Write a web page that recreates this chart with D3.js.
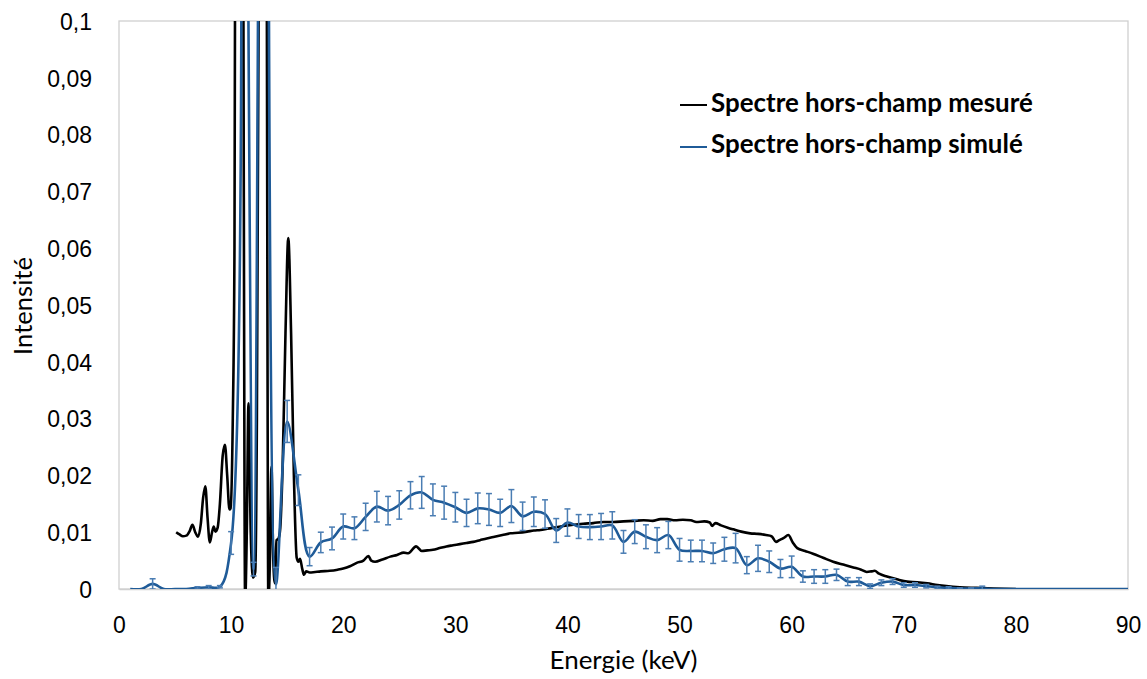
<!DOCTYPE html>
<html><head><meta charset="utf-8">
<script src="https://cdn.jsdelivr.net/npm/d3@7"></script>
<style>body{margin:0;background:#fff;} svg{display:block;font-family:Lato, "Open Sans", sans-serif;}</style>
</head><body>
<svg id="chart" width="1147" height="679"></svg>
<script>
// ---------------- data ----------------
const xTickValues = [0, 10, 20, 30, 40, 50, 60, 70, 80, 90];
const xTickLabels = ["0", "10", "20", "30", "40", "50", "60", "70", "80", "90"];
const yTickValues = [0, 0.01, 0.02, 0.03, 0.04, 0.05, 0.06, 0.07, 0.08, 0.09, 0.1];
const yTickLabels = ["0", "0,01", "0,02", "0,03", "0,04", "0,05", "0,06", "0,07", "0,08", "0,09", "0,1"];
const seriesNames = ["Spectre hors-champ mesuré", "Spectre hors-champ simulé"];
const xTitle = "Energie (keV)";
const yTitle = "Intensité";

// measured spectrum (keV, intensity)
const measuredEnergy = [
  5.1, 5.4, 5.7, 6.0, 6.3, 6.55, 6.8, 7.05, 7.3, 7.5, 7.7, 7.9, 8.1, 8.3, 8.45, 8.6, 8.8,
  9.0, 9.25, 9.45, 9.65, 9.85, 9.95, 10.15, 10.3, 10.45, 10.7, 10.95, 11.1, 11.25, 11.4,
  11.55, 11.75, 11.95, 12.15, 12.3, 12.45, 12.65, 12.9, 13.05, 13.19, 13.32, 13.45, 13.6,
  13.75, 13.9, 14.05, 14.2, 14.35, 14.6, 14.85, 15.1, 15.35, 15.6, 15.85, 16.0, 16.15,
  16.35, 16.5, 16.7, 17.0, 17.5, 18.0, 18.8, 19.5, 20.0, 20.6, 21.2, 21.8, 22.25, 22.5,
  22.84, 23.5, 24.2, 24.8, 25.4, 25.8, 26.5, 27.0, 27.5, 28.0, 28.6, 29.2, 29.8, 30.4,
  31.0, 31.6, 32.2, 32.8, 33.5, 34.2, 34.9, 35.6, 36.4, 37.0, 37.6, 38.2, 38.8, 39.6,
  40.5, 41.4, 42.3, 43.2, 44.1, 45.0, 45.9, 46.8, 47.6, 48.3, 48.9, 49.6, 50.3, 51.0,
  51.5, 52.2, 52.7, 52.9, 53.2, 53.7, 54.3, 54.8, 55.5, 56.3, 57.0, 57.7, 58.2, 58.6,
  58.9, 59.3, 59.7, 60.1, 60.5, 61.2, 61.9, 62.8, 63.7, 64.6, 65.5, 66.2, 66.7, 67.1,
  67.4, 67.8, 68.5, 69.4, 70.3, 71.2, 72.1, 73.0, 73.8, 75.0, 76.5, 78.0, 80.0
];
const measuredValue = [
  0.0100, 0.0096, 0.0093, 0.0094, 0.0102, 0.0113, 0.0100, 0.0092, 0.0115, 0.0160, 0.0181, 0.0125, 0.0082, 0.0100, 0.0110, 0.0101, 0.0108,
  0.0150, 0.0235, 0.0254, 0.0200, 0.0140, 0.0142, 0.0300, 0.0600, 0.2000, 0.3500, 0.2500, 0.1000, -0.0020, 0.0100,
  0.0327, 0.0100, 0.0020, 0.0030, 0.0300, 0.1000, 0.3000, 0.3300, 0.2500, 0.1000, -0.0020, 0.0040, 0.0215,
  0.0060, 0.0010, 0.0086, 0.0088, 0.0100, 0.0220, 0.0450, 0.0618, 0.0450, 0.0200, 0.0055, 0.0048, 0.0053,
  0.0035, 0.0025, 0.0031, 0.0029, 0.0030, 0.0031, 0.0032, 0.0034, 0.0036, 0.0040, 0.0046, 0.0050, 0.0058, 0.0050,
  0.0048, 0.0052, 0.0057, 0.0060, 0.0064, 0.0063, 0.0075, 0.0067, 0.0068, 0.0069, 0.0072, 0.0075, 0.0077, 0.0079,
  0.0081, 0.0083, 0.0086, 0.0089, 0.0092, 0.0095, 0.0098, 0.0099, 0.0101, 0.0103, 0.0104, 0.0106, 0.0108, 0.0111,
  0.0113, 0.0115, 0.0116, 0.0118, 0.0118, 0.0119, 0.0120, 0.0121, 0.0120, 0.0123, 0.0123, 0.0121, 0.0122, 0.0121,
  0.0118, 0.0119, 0.0117, 0.0111, 0.0116, 0.0112, 0.0108, 0.0105, 0.0101, 0.0098, 0.0097, 0.0095, 0.0093, 0.0083,
  0.0086, 0.0090, 0.0095, 0.0082, 0.0072, 0.0067, 0.0062, 0.0055, 0.0048, 0.0043, 0.0038, 0.0034, 0.0030, 0.0031,
  0.0032, 0.0027, 0.0022, 0.0017, 0.0013, 0.0012, 0.0010, 0.0007, 0.0005, 0.0003, 0.0002, 0.0001, 0.0000
];

// simulated spectrum (keV, intensity, error half-width)
const simulatedEnergy = [
  1, 2, 3, 4, 5, 6, 7, 8, 9, 10, 11, 12, 13, 14, 15, 16, 17, 18, 19, 20,
  21, 22, 23, 24, 25, 26, 27, 28, 29, 30, 31, 32, 33, 34, 35, 36, 37, 38, 39, 40,
  41, 42, 43, 44, 45, 46, 47, 48, 49, 50, 51, 52, 53, 54, 55, 56, 57, 58, 59, 60,
  61, 62, 63, 64, 65, 66, 67, 68, 69, 70, 71, 72, 73, 74, 75, 76, 77, 78, 79, 80,
  81, 82, 83, 84, 85, 86, 87, 88, 89, 90
];
const simulatedValue = [
  0, 0, 0.0009, 0, 0, 0, 0.0002, 0.0003, 0.0004, 0.0081, 0.22, 0.0035, 0.30, 0.0008, 0.0295, 0.0174, 0.0057, 0.0082, 0.0089, 0.0110,
  0.0107, 0.0127, 0.0145, 0.0138, 0.0148, 0.0165, 0.0170, 0.0157, 0.0152, 0.0144, 0.0134, 0.0142, 0.0140, 0.0134, 0.0146, 0.0128, 0.0136, 0.0132, 0.0103, 0.0117,
  0.0110, 0.0109, 0.0110, 0.0112, 0.0083, 0.0101, 0.0092, 0.0086, 0.0095, 0.0069, 0.0067, 0.0067, 0.0063, 0.0070, 0.0072, 0.0042, 0.0054, 0.0048, 0.0036, 0.0039,
  0.0022, 0.0022, 0.0022, 0.0025, 0.0013, 0.0013, 0.0005, 0.0011, 0.0013, 0.0007, 0.0007, 0.0005, 0.0003, 0.0002, 0.0001, 0.0001, 0.0001, 0, 0, 0,
  0, 0, 0, 0, 0, 0, 0, 0, 0, 0
];
const simulatedError = [
  0, 0, 0.0009, 0, 0, 0, 0.0002, 0.0003, 0.0002, 0.0020, 0.0100, 0.0012, 0.0100, 0.0030, 0.0037, 0.0027, 0.0016, 0.0018, 0.0020, 0.0022,
  0.0020, 0.0024, 0.0027, 0.0025, 0.0025, 0.0024, 0.0028, 0.0028, 0.0029, 0.0026, 0.0024, 0.0027, 0.0028, 0.0024, 0.0029, 0.0025, 0.0026, 0.0025, 0.0021, 0.0024,
  0.0021, 0.0022, 0.0023, 0.0024, 0.0020, 0.0021, 0.0021, 0.0022, 0.0024, 0.0020, 0.0019, 0.0019, 0.0018, 0.0021, 0.0026, 0.0015, 0.0023, 0.0019, 0.0016, 0.0019,
  0.0010, 0.0012, 0.0012, 0.0010, 0.0007, 0.0007, 0.0004, 0.0005, 0.0005, 0.0004, 0.0004, 0.0003, 0.0002, 0.0002, 0.0001, 0.0001, 0.0004, 0, 0, 0,
  0, 0, 0, 0, 0, 0, 0, 0, 0, 0
];

// ---------------- layout ----------------
const plot = {left: 119, right: 1128, top: 21, bottom: 589};
const colors = {measured: "#000000", simulated: "#1f5b98", error: "#4a7db3", frame: "#d0d0d0", text: "#000000"};

const svg = d3.select("#chart");
const x = d3.scaleLinear().domain([0, 90]).range([plot.left, plot.right]);
const y = d3.scaleLinear().domain([0, 0.1]).range([plot.bottom, plot.top]);

svg.append("defs").append("clipPath").attr("id", "clip")
  .append("rect").attr("x", plot.left).attr("y", plot.top)
  .attr("width", plot.right - plot.left).attr("height", plot.bottom - plot.top);

// plot-area frame
svg.append("rect").attr("x", plot.left).attr("y", plot.top)
  .attr("width", plot.right - plot.left).attr("height", plot.bottom - plot.top)
  .attr("fill", "none").attr("stroke", colors.frame).attr("stroke-width", 1.3);

// axes
const xAxis = svg.append("g").attr("transform", `translate(0,${plot.bottom})`)
  .call(d3.axisBottom(x).tickValues(xTickValues).tickSize(0)
    .tickFormat((d, i) => xTickLabels[i]));
xAxis.select(".domain").attr("stroke", colors.frame).attr("stroke-width", 1.3);
xAxis.selectAll("text").attr("y", 44).attr("dy", 0)
  .style("font-size", "23px").attr("fill", colors.text);

const yAxis = svg.append("g").attr("transform", `translate(${plot.left},0)`)
  .call(d3.axisLeft(y).tickValues(yTickValues).tickSize(0)
    .tickFormat((d, i) => yTickLabels[i]));
yAxis.select(".domain").remove();
yAxis.selectAll("text").attr("x", -27).attr("dy", "0.36em")
  .style("font-size", "23px").attr("fill", colors.text);

function fit(sel, target) {
  const w = sel.node().getComputedTextLength();
  const fs = parseFloat(sel.style("font-size"));
  const nfs = fs * target / w;
  sel.style("font-size", nfs + "px");
  return nfs;
}

// titles
const xt = svg.append("text").attr("x", (plot.left + plot.right) / 2).attr("y", 669)
  .attr("text-anchor", "middle").style("font-size", "23px").attr("fill", colors.text).text(xTitle);
fit(xt, 148);
const yt = svg.append("text").attr("transform", "translate(32,306) rotate(-90)")
  .attr("text-anchor", "middle").style("font-size", "23px").attr("fill", colors.text).text(yTitle);
fit(yt, 98);

// series
const g = svg.append("g").attr("clip-path", "url(#clip)");

const measured = measuredEnergy.map((e, i) => ({e, v: measuredValue[i]}));
const simulated = simulatedEnergy.map((e, i) => ({e, v: simulatedValue[i], err: simulatedError[i]}));

const measuredLine = d3.line().x(d => x(d.e)).y(d => y(d.v)).curve(d3.curveMonotoneX);
const simulatedLine = d3.line().x(d => x(d.e)).y(d => y(d.v)).curve(d3.curveCatmullRom.alpha(0.5));

g.append("path").datum(measured).attr("d", measuredLine)
  .attr("fill", "none").attr("stroke", colors.measured).attr("stroke-width", 2.6)
  .attr("stroke-linejoin", "round");

g.append("path").datum(simulated).attr("d", simulatedLine)
  .attr("fill", "none").attr("stroke", colors.simulated).attr("stroke-width", 2.6)
  .attr("stroke-linejoin", "round");

// error bars
const eb = g.append("g").attr("stroke", colors.error).attr("stroke-width", 1.5).attr("fill", "none");
const withErr = simulated.filter(d => d.err > 0);
const cap = 3;
eb.selectAll("line.v").data(withErr).join("line").attr("class", "v")
  .attr("x1", d => x(d.e)).attr("x2", d => x(d.e))
  .attr("y1", d => y(d.v - d.err)).attr("y2", d => y(d.v + d.err));
eb.selectAll("line.t").data(withErr).join("line").attr("class", "t")
  .attr("x1", d => x(d.e) - cap).attr("x2", d => x(d.e) + cap)
  .attr("y1", d => y(d.v + d.err)).attr("y2", d => y(d.v + d.err));
eb.selectAll("line.b").data(withErr).join("line").attr("class", "b")
  .attr("x1", d => x(d.e) - cap).attr("x2", d => x(d.e) + cap)
  .attr("y1", d => y(d.v - d.err)).attr("y2", d => y(d.v - d.err));

// legend
const legend = svg.append("g");
const legendRows = [
  {name: seriesNames[0], color: colors.measured, ly: 105, ty: 111.5},
  {name: seriesNames[1], color: colors.simulated, ly: 147, ty: 153.3}
];
legendRows.forEach(r => {
  legend.append("line").attr("x1", 680).attr("x2", 707).attr("y1", r.ly).attr("y2", r.ly)
    .attr("stroke", r.color).attr("stroke-width", 2);
  r.t = legend.append("text").attr("x", 711).attr("y", r.ty)
    .style("font-size", "24px").style("font-weight", "bold").attr("fill", colors.text).text(r.name);
});
const lfs = fit(legendRows[0].t, 322);
legendRows[1].t.style("font-size", lfs + "px");
</script>
</body></html>
